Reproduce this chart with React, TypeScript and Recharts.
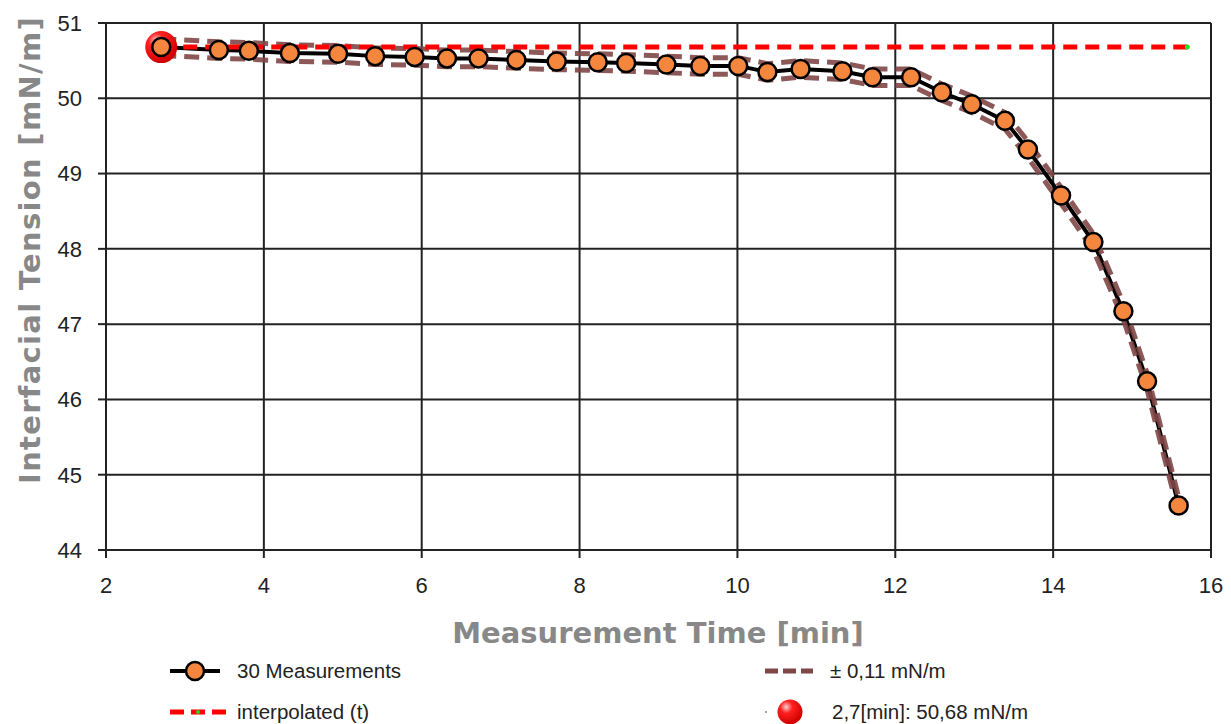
import React from "react";
import { ComposedChart, Line, XAxis, YAxis, CartesianGrid } from "recharts";

// measured drop, time in min / tension in mN/m
const times = [
  2.7, 3.43, 3.81, 4.33, 4.94, 5.41, 5.91, 6.32, 6.72, 7.2, 7.71, 8.23, 8.59,
  9.1, 9.53, 10.01, 10.38, 10.8, 11.33, 11.71, 12.2, 12.59, 12.97, 13.39,
  13.68, 14.1, 14.51, 14.89, 15.19, 15.59,
];
const tension = [
  50.68, 50.64, 50.63, 50.6, 50.59, 50.56, 50.55, 50.53, 50.53, 50.51, 50.49,
  50.48, 50.47, 50.45, 50.43, 50.43, 50.35, 50.39, 50.36, 50.28, 50.28, 50.08,
  49.92, 49.7, 49.32, 48.71, 48.09, 47.17, 46.24, 44.59,
];
const tolerance = 0.11;

const interpTimes = [2.7, 15.7];
const interpValue = 50.68;

const pickedTime = 2.7;
const pickedValue = 50.68;

const xTicks = [2, 4, 6, 8, 10, 12, 14, 16];
const yTicks = [44, 45, 46, 47, 48, 49, 50, 51];

const rows = times.map((t, i) => ({
  t,
  gamma: tension[i],
  upper: tension[i] + tolerance,
  lower: tension[i] - tolerance,
}));
const interpRows = interpTimes.map((t) => ({ t, interp: interpValue }));
const pickedRows = [{ t: pickedTime, picked: pickedValue }];

const ORANGE = "#f4863d";
const BAND = "#7f4646";
const TICK_FONT = "'Liberation Sans', Arial, sans-serif";
const TITLE_FONT = "'DejaVu Sans', Verdana, sans-serif";

function MeasurementDot(props: any) {
  const { cx, cy, index } = props;
  if (cx == null || cy == null) return null;
  return (
    <circle
      key={`m-${index}`}
      cx={cx}
      cy={cy}
      r={9}
      fill={ORANGE}
      stroke="#000"
      strokeWidth={2.5}
    />
  );
}

function InterpEndDot(props: any) {
  const { cx, cy, index } = props;
  if (cx == null || cy == null || index !== interpRows.length - 1) return null;
  return <circle key={`i-${index}`} cx={cx} cy={cy} r={2.5} fill="#22dd22" />;
}

function Sphere({ cx, cy, r, id }: { cx: number; cy: number; r: number; id: string }) {
  return (
    <g>
      <defs>
        <radialGradient id={id} cx="35%" cy="30%" r="70%">
          <stop offset="0%" stopColor="#ffd0d0" />
          <stop offset="35%" stopColor="#ff2020" />
          <stop offset="100%" stopColor="#d00000" />
        </radialGradient>
      </defs>
      <circle cx={cx} cy={cy} r={r} fill={`url(#${id})`} />
    </g>
  );
}

function PickedDot(props: any) {
  const { cx, cy, index } = props;
  if (cx == null || cy == null) return null;
  return <Sphere key={`p-${index}`} cx={cx} cy={cy} r={16} id="pickedSphere" />;
}

function XTitle() {
  return (
    <text
      x={658}
      y={643}
      textAnchor="middle"
      fill="#888"
      fontFamily={TITLE_FONT}
      fontWeight="bold"
      fontSize={29}
    >
      Measurement Time [min]
    </text>
  );
}

function YTitle() {
  return (
    <text
      x={40}
      y={250}
      transform="rotate(-90 40 250)"
      textAnchor="middle"
      fill="#888"
      fontFamily={TITLE_FONT}
      fontWeight="bold"
      fontSize={29}
      letterSpacing={1.3}
    >
      Interfacial Tension [mN/m]
    </text>
  );
}

const legendText: React.CSSProperties = {
  position: "absolute",
  fontFamily: TICK_FONT,
  fontSize: 20.5,
  color: "#222",
  lineHeight: "24px",
  whiteSpace: "nowrap",
};

function LegendBlock() {
  return (
    <>
      {/* row 1 left */}
      <svg style={{ position: "absolute", left: 165, top: 658 }} width={60} height={26}>
        <line x1={5} y1={13} x2={55} y2={13} stroke="#000" strokeWidth={4} />
        <circle cx={30} cy={13} r={9} fill={ORANGE} stroke="#000" strokeWidth={2.5} />
      </svg>
      <div style={{ ...legendText, left: 237, top: 659 }}>30 Measurements</div>

      {/* row 1 right */}
      <svg style={{ position: "absolute", left: 760, top: 658 }} width={60} height={26}>
        <line
          x1={5}
          y1={13}
          x2={53}
          y2={13}
          stroke={BAND}
          strokeWidth={5}
          strokeDasharray="13 5"
        />
      </svg>
      <div style={{ ...legendText, left: 830, top: 659 }}>± 0,11 mN/m</div>

      {/* row 2 left */}
      <svg style={{ position: "absolute", left: 165, top: 699 }} width={66} height={26}>
        <line
          x1={5}
          y1={13}
          x2={61}
          y2={13}
          stroke="#ff0000"
          strokeWidth={5}
          strokeDasharray="14 7"
        />
        <circle cx={33} cy={13} r={2} fill="#22dd22" />
      </svg>
      <div style={{ ...legendText, left: 237, top: 700 }}>interpolated (t)</div>

      {/* row 2 right */}
      <svg style={{ position: "absolute", left: 760, top: 697 }} width={50} height={30}>
        <circle cx={6} cy={15} r={1} fill="#888" />
        <Sphere cx={30} cy={15} r={12.5} id="legendSphere" />
      </svg>
      <div style={{ ...legendText, left: 832, top: 700 }}>2,7[min]: 50,68 mN/m</div>
    </>
  );
}

export default function App() {
  const tickStyle = { fill: "#222", fontSize: 22, fontFamily: TICK_FONT };
  const lineStyle = { stroke: "#222", strokeWidth: 2 };

  return (
    <div
      style={{
        position: "absolute",
        left: 0,
        top: 0,
        width: 1231,
        height: 724,
        background: "#fff",
      }}
    >
      <ComposedChart
        width={1231}
        height={724}
        margin={{ top: 23, right: 20, bottom: 0, left: 0 }}
      >
        <CartesianGrid stroke="#222" strokeWidth={2} />
        <XAxis
          type="number"
          dataKey="t"
          domain={[2, 16]}
          ticks={xTicks}
          allowDataOverflow
          height={174}
          tick={tickStyle}
          tickSize={8}
          tickMargin={19}
          tickLine={lineStyle}
          axisLine={lineStyle}
          label={<XTitle />}
        />
        <YAxis
          type="number"
          domain={[44, 51]}
          ticks={yTicks}
          allowDataOverflow
          width={106}
          tick={tickStyle}
          tickSize={8}
          tickMargin={16}
          tickLine={lineStyle}
          axisLine={lineStyle}
          label={<YTitle />}
        />

        <Line
          data={rows}
          dataKey="gamma"
          type="linear"
          stroke="#000"
          strokeWidth={4}
          dot={false}
          activeDot={false}
          isAnimationActive={false}
        />
        <Line
          data={rows}
          dataKey="upper"
          type="linear"
          stroke={BAND}
          strokeOpacity={0.9}
          strokeWidth={5}
          strokeDasharray="15 8"
          dot={false}
          activeDot={false}
          isAnimationActive={false}
        />
        <Line
          data={rows}
          dataKey="lower"
          type="linear"
          stroke={BAND}
          strokeOpacity={0.9}
          strokeWidth={5}
          strokeDasharray="15 8"
          dot={false}
          activeDot={false}
          isAnimationActive={false}
        />
        <Line
          data={interpRows}
          dataKey="interp"
          type="linear"
          stroke="#ff0000"
          strokeWidth={5}
          strokeDasharray="14 8"
          dot={<InterpEndDot />}
          activeDot={false}
          isAnimationActive={false}
        />
        <Line
          data={pickedRows}
          dataKey="picked"
          stroke="none"
          dot={<PickedDot />}
          activeDot={false}
          isAnimationActive={false}
        />
        <Line
          data={rows}
          dataKey="gamma"
          stroke="none"
          dot={<MeasurementDot />}
          activeDot={false}
          isAnimationActive={false}
        />
      </ComposedChart>
      <LegendBlock />
    </div>
  );
}
